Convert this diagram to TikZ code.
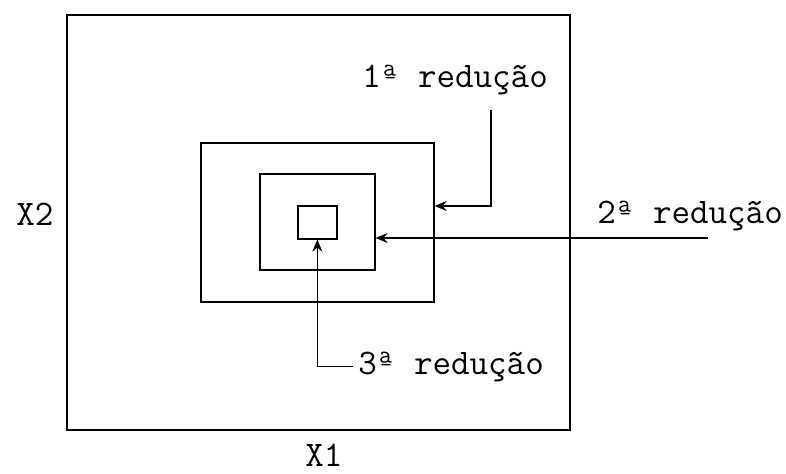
\documentclass[tikz,border=0pt]{standalone}
\usepackage{fontspec}
\usetikzlibrary{arrows.meta,positioning}

\tikzset{
  frame/.style={draw, line width=0.8pt, inner sep=0pt, anchor=north west},
  lbl/.style={inner sep=0pt, anchor=base west, font=\ttfamily\fontsize{18}{21}\selectfont},
  redarrow/.style={draw, line width=0.7pt, -{Stealth[length=6pt,width=5pt]}}
}

\begin{document}
\begin{tikzpicture}[x=0.5pt,y=-0.5pt]
  \useasboundingbox (0,0) rectangle (786,473);

  % nested regions
  \node[frame, minimum width=251.5pt, minimum height=207.5pt] (outer) at (66,14) {};
  \node[frame, minimum width=116.5pt, minimum height=79.5pt] (mid) at (200,142) {};
  \node[frame, minimum width=57.5pt, minimum height=48pt] (inner) at (259,173) {};
  \node[frame, minimum width=19.5pt, minimum height=16.5pt] (small) at (297,205) {};

  % axes
  \node[lbl] (xtwo) at (16,225) {X2};
  \node[lbl] (xone) at (305,466) {X1};

  % labels
  \node[lbl] (red1) at (362,87) {1ª redução};
  \node[lbl] (red2) at (597,223) {2ª redução};
  \node[lbl] (red3) at (358,374) {3ª redução};

  % arrows
  \coordinate (in1) at (491,110);
  \coordinate (bend1) at (491,206);
  \draw[redarrow] (in1) -- (bend1) -- (bend1 -| mid.east);
  \coordinate (in2) at (708,238);
  \draw[redarrow] (in2) -- (in2 -| inner.east);
  \draw[redarrow] ([xshift=-2.5pt]red3.west) -| (small.south);
\end{tikzpicture}
\end{document}
